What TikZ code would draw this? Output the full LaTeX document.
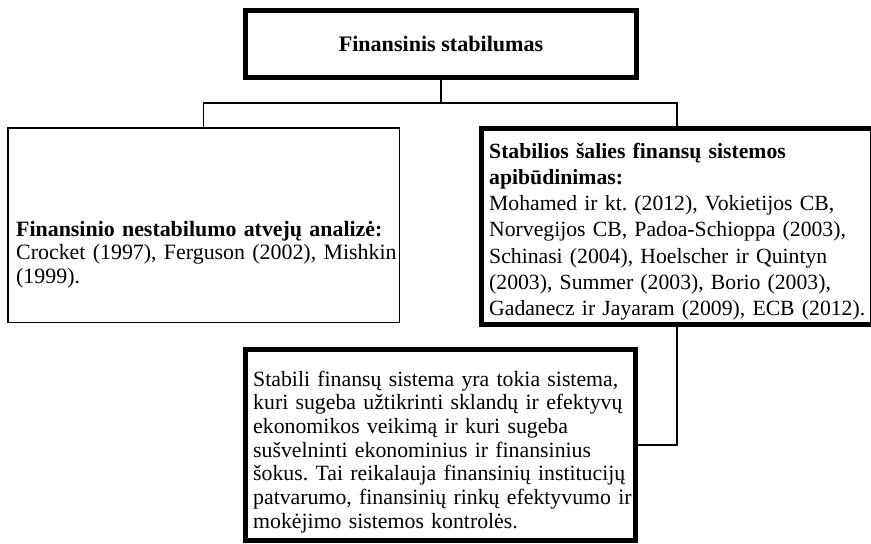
\documentclass[tikz,border=0pt]{standalone}
\usepackage{fontspec}
\setmainfont{Liberation Serif}
\frenchspacing
\begin{document}
\begin{tikzpicture}[x=1pt,y=-1pt,
  thickbox/.style={draw=black,line width=5pt,inner sep=0pt,outer sep=0pt,
    rectangle,anchor=north west},
  thinbox/.style={draw=black,line width=1.5pt,inner sep=0pt,outer sep=0pt,
    rectangle,anchor=north west},
  boxtext/.style={inner sep=0pt,anchor=base west,align=left,text width=420pt},
  link/.style={draw=black,line width=1.6pt}]
\useasboundingbox (0,0) rectangle (871,544);

% boxes
\node[thickbox,minimum width=391pt,minimum height=67pt,
  font=\fontsize{22.1}{24}\selectfont\bfseries] (top) at (245.5,10.5)
  {Finansinis stabilumas};
\node[thinbox,minimum width=391.5pt,minimum height=194.5pt] (left) at (7.75,127.75) {};
\node[thickbox,minimum width=390.5pt,minimum height=196pt] (right) at (481.5,128.5) {};
\node[thickbox,minimum width=390pt,minimum height=191pt] (bottom) at (245.5,349.5) {};

% box texts
\node[boxtext,font=\fontsize{21.9}{23.5}\selectfont] (leftText) at (16,236)
  {\textbf{Finansinio nestabilumo atvejų analizė:}\\
   Crocket (1997), Ferguson (2002), Mishkin\\
   (1999).};
\node[boxtext,font=\fontsize{21.7}{26.3}\selectfont] (rightText) at (489,158)
  {\textbf{Stabilios šalies finansų sistemos}\\
   \textbf{apibūdinimas:}\\
   Mohamed ir kt. (2012), Vokietijos CB,\\
   Norvegijos CB, Padoa-Schioppa (2003),\\
   Schinasi (2004), Hoelscher ir Quintyn\\
   (2003), Summer (2003), Borio (2003),\\
   Gadanecz ir Jayaram (2009), ECB (2012).};
\node[boxtext,font=\fontsize{21.8}{23.7}\selectfont] (bottomText) at (253,386)
  {Stabili finansų sistema yra tokia sistema,\\
   kuri sugeba užtikrinti sklandų ir efektyvų\\
   ekonomikos veikimą ir kuri sugeba\\
   sušvelninti ekonominius ir finansinius\\
   šokus. Tai reikalauja finansinių institucijų\\
   patvarumo, finansinių rinkų efektyvumo ir\\
   mokėjimo sistemos kontrolės.};

% connectors
\coordinate (split) at (top.south |- 0,103);
\draw[link] (top.south) -- (split);
\draw[link] (left.north) |- (split) -| (right.north);
\draw[link] (right.south) |- (bottom.east);
\end{tikzpicture}
\end{document}
